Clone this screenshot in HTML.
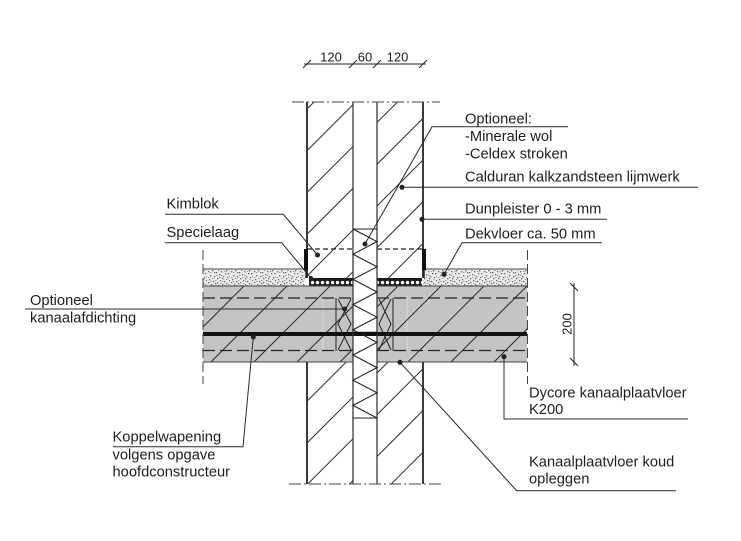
<!DOCTYPE html>
<html><head><meta charset="utf-8"><style>
html,body{margin:0;padding:0;background:#fff;}
svg{display:block;}
text{font-family:"Liberation Sans",Arial,sans-serif;fill:#1e1e1e;}
</style></head><body>
<svg width="741" height="541" viewBox="0 0 741 541" xmlns="http://www.w3.org/2000/svg">
<defs>
<pattern id="st" patternUnits="userSpaceOnUse" x="0" y="269" width="23" height="17">
<rect width="23" height="17" fill="#ececec"/>
<g fill="#6a6a6a">
<rect x="1" y="2" width="1.3" height="1.3"/><rect x="5" y="1" width="1.3" height="1.3"/><rect x="9" y="3" width="1.3" height="1.3"/><rect x="14" y="2" width="1.3" height="1.3"/><rect x="19" y="1" width="1.3" height="1.3"/><rect x="21" y="4" width="1.3" height="1.3"/><rect x="3" y="6" width="1.3" height="1.3"/><rect x="7" y="7" width="1.3" height="1.3"/><rect x="12" y="5" width="1.3" height="1.3"/><rect x="16" y="7" width="1.3" height="1.3"/><rect x="20" y="8" width="1.3" height="1.3"/><rect x="2" y="10" width="1.3" height="1.3"/><rect x="6" y="12" width="1.3" height="1.3"/><rect x="10" y="9" width="1.3" height="1.3"/><rect x="13" y="11" width="1.3" height="1.3"/><rect x="17" y="12" width="1.3" height="1.3"/><rect x="22" y="11" width="1.3" height="1.3"/><rect x="4" y="15" width="1.3" height="1.3"/><rect x="8" y="14" width="1.3" height="1.3"/><rect x="11" y="16" width="1.3" height="1.3"/><rect x="15" y="15" width="1.3" height="1.3"/><rect x="19" y="14" width="1.3" height="1.3"/><rect x="1" y="13" width="1.3" height="1.3"/><rect x="18" y="4" width="1.3" height="1.3"/><rect x="10" y="13" width="1.3" height="1.3"/><rect x="7" y="3" width="1.3" height="1.3"/><rect x="15" y="9" width="1.3" height="1.3"/>
</g>
<g fill="#9a9a9a">
<rect x="3" y="3" width="1.5" height="1"/><rect x="11" y="1" width="1.5" height="1"/><rect x="17" y="2" width="1.5" height="1"/><rect x="1" y="8" width="1.5" height="1"/><rect x="9" y="6" width="1.5" height="1"/><rect x="14" y="6" width="1.5" height="1"/><rect x="22" y="7" width="1" height="1"/><rect x="5" y="9" width="1.5" height="1"/><rect x="12" y="8" width="1.5" height="1"/><rect x="19" y="10" width="1.5" height="1"/><rect x="3" y="12" width="1.5" height="1"/><rect x="8" y="11" width="1.5" height="1"/><rect x="15" y="12" width="1.5" height="1"/><rect x="21" y="15" width="1.5" height="1"/><rect x="6" y="16" width="1.5" height="1"/><rect x="13" y="14" width="1.5" height="1"/><rect x="17" y="16" width="1.5" height="1"/>
</g>
</pattern>
<pattern id="mo" patternUnits="userSpaceOnUse" x="0" y="278" width="5" height="8">
<rect width="5" height="8" fill="#1a1a1a"/>
<circle cx="2.5" cy="4.6" r="1.7" fill="#fff"/>
</pattern>
<clipPath id="walls">
<rect x="307" y="102" width="46" height="176"/>
<rect x="377" y="102" width="46" height="176"/>
<rect x="307" y="362" width="46" height="122"/>
<rect x="377" y="362" width="46" height="122"/>
</clipPath>
<clipPath id="slabL"><rect x="203" y="286" width="150" height="76"/></clipPath>
<clipPath id="slabR"><rect x="377" y="286" width="150" height="76"/></clipPath>
</defs>
<rect width="741" height="541" fill="#fff"/>

<rect x="203" y="286" width="150" height="76" fill="#c4c4c4"/>
<rect x="377" y="286" width="150" height="76" fill="#c4c4c4"/>
<g stroke="#d8d8d8" stroke-width="1">
<line x1="323" y1="298" x2="323" y2="350"/>
<line x1="407" y1="298" x2="407" y2="350"/>
</g>

<rect x="203" y="269" width="102" height="17" fill="url(#st)"/>
<rect x="423" y="269" width="104" height="17" fill="url(#st)"/>
<rect x="309" y="278" width="44" height="8" fill="url(#mo)"/>
<rect x="377" y="278" width="45" height="8" fill="url(#mo)"/>

<g clip-path="url(#walls)" stroke="#333" stroke-width="1">
<line x1="-84" y1="500" x2="326" y2="90"/>
<line x1="-42.25" y1="500" x2="367.75" y2="90"/>
<line x1="-0.5" y1="500" x2="409.5" y2="90"/>
<line x1="41.25" y1="500" x2="451.25" y2="90"/>
<line x1="83" y1="500" x2="493" y2="90"/>
<line x1="124.75" y1="500" x2="534.75" y2="90"/>
<line x1="166.5" y1="500" x2="576.5" y2="90"/>
<line x1="208.25" y1="500" x2="618.25" y2="90"/>
<line x1="250" y1="500" x2="660" y2="90"/>
<line x1="291.75" y1="500" x2="701.75" y2="90"/>
<line x1="333.5" y1="500" x2="743.5" y2="90"/>
<line x1="375.25" y1="500" x2="785.25" y2="90"/>
</g>
<g clip-path="url(#slabL)" stroke="#2a2a2a" stroke-width="1">
<line x1="87" y1="400" x2="287" y2="200"/>
<line x1="130" y1="400" x2="330" y2="200"/>
<line x1="173" y1="400" x2="373" y2="200"/>
<line x1="216" y1="400" x2="416" y2="200"/>
<line x1="259" y1="400" x2="459" y2="200"/>
<line x1="302" y1="400" x2="502" y2="200"/>
</g>
<g clip-path="url(#slabR)" stroke="#2a2a2a" stroke-width="1">
<line x1="241" y1="400" x2="441" y2="200"/>
<line x1="284" y1="400" x2="484" y2="200"/>
<line x1="327" y1="400" x2="527" y2="200"/>
<line x1="370" y1="400" x2="570" y2="200"/>
<line x1="413" y1="400" x2="613" y2="200"/>
<line x1="456" y1="400" x2="656" y2="200"/>
</g>

<g stroke="#222" stroke-width="1.2" stroke-dasharray="12 5">
<line x1="203" y1="298" x2="353" y2="298"/>
<line x1="377" y1="298" x2="527" y2="298"/>
<line x1="203" y1="350.5" x2="353" y2="350.5"/>
<line x1="377" y1="350.5" x2="527" y2="350.5"/>
</g>
<g stroke="#222" stroke-width="1" fill="none">
<line x1="336" y1="298" x2="336" y2="351"/>
<line x1="393" y1="298" x2="393" y2="351"/>
<polyline points="338,299 351,324 338,350"/>
<polyline points="351,299 338,324 351,350"/>
<polyline points="379,299 391,324 379,350"/>
<polyline points="391,299 379,324 391,350"/>
</g>

<g stroke="#444" stroke-width="1.1">
<line x1="203" y1="269" x2="306" y2="269"/>
<line x1="423" y1="269" x2="527" y2="269"/>
<line x1="203" y1="286" x2="353" y2="286"/>
<line x1="377" y1="286" x2="527" y2="286"/>
<line x1="203" y1="362" x2="353" y2="362"/>
<line x1="377" y1="362" x2="527" y2="362"/>
</g>
<line x1="203" y1="334" x2="527" y2="334" stroke="#111" stroke-width="4"/>

<g stroke="#444" stroke-width="1" stroke-dasharray="10 4">
<line x1="203" y1="250" x2="203" y2="384"/>
<line x1="527.5" y1="250" x2="527.5" y2="384"/>
</g>

<g stroke="#3a3a3a">
<line x1="307" y1="102" x2="307" y2="278" stroke-width="2"/>
<line x1="307" y1="362" x2="307" y2="484" stroke-width="2"/>
<line x1="423" y1="102" x2="423" y2="278" stroke-width="2"/>
<line x1="423" y1="362" x2="423" y2="484" stroke-width="2"/>
<line x1="353" y1="102" x2="353" y2="484" stroke-width="1.3"/>
<line x1="377" y1="102" x2="377" y2="484" stroke-width="1.3"/>
</g>
<g stroke="#222" stroke-width="1.2" stroke-dasharray="5 3">
<line x1="307" y1="249" x2="353" y2="249"/>
<line x1="377" y1="249" x2="423" y2="249"/>
</g>
<rect x="304" y="249" width="4" height="21" fill="#111"/>
<rect x="422" y="249" width="4" height="21" fill="#111"/>
<line x1="306" y1="270" x2="306" y2="278" stroke="#222" stroke-width="1.5"/>
<line x1="424" y1="270" x2="424" y2="278" stroke="#222" stroke-width="1.5"/>

<g stroke="#222" stroke-width="1.1" fill="none">
<line x1="353" y1="229" x2="377" y2="229"/>
<line x1="353" y1="418" x2="377" y2="418"/>
<polyline points="353,229 377,241.6 353,254.2 377,266.8 353,279.4 377,292 353,304.6 377,317.2 353,329.8 377,342.4 353,355 377,367.6 353,380.2 377,392.8 353,405.4 377,418"/>
</g>
<line x1="353" y1="333" x2="377" y2="333" stroke="#111" stroke-width="2.5"/>

<g stroke="#444" stroke-width="1.1" stroke-dasharray="12 3 2 3">
<line x1="292" y1="102" x2="440" y2="102"/>
<line x1="289" y1="484" x2="441" y2="484"/>
</g>

<g stroke="#222" stroke-width="1">
<line x1="304" y1="64" x2="426" y2="64"/>
<line x1="303" y1="68" x2="311" y2="60"/>
<line x1="349" y1="68" x2="357" y2="60"/>
<line x1="373" y1="68" x2="381" y2="60"/>
<line x1="419" y1="68" x2="427" y2="60"/>
</g>
<text x="331" y="61.5" font-size="13" text-anchor="middle">120</text>
<text x="365" y="61.5" font-size="13" text-anchor="middle">60</text>
<text x="397.5" y="61.5" font-size="13" text-anchor="middle">120</text>

<g stroke="#222" stroke-width="1">
<line x1="574" y1="283" x2="574" y2="366"/>
<line x1="570" y1="283" x2="578" y2="291"/>
<line x1="570" y1="358" x2="578" y2="366"/>
</g>
<text transform="translate(571.5,324) rotate(-90)" font-size="13" text-anchor="middle">200</text>

<g stroke="#2a2a2a" stroke-width="1" fill="none">
<polyline points="568,126.7 432,126.7 365,244"/>
<polyline points="698,187.3 402,187.3"/>
<polyline points="607,219.3 422,219.3"/>
<polyline points="602,242.7 462,242.7 444,274.3"/>
<polyline points="165,214.3 283.3,214.3 317.5,255"/>
<polyline points="165,242.7 281.7,242.7 311,278"/>
<polyline points="25,309 344.7,309"/>
<polyline points="113,446.7 243,446.7 253.3,337"/>
<polyline points="688,419 504,419 504,356.7"/>
<polyline points="676,490.7 516.7,490.7 400,362.3"/>
</g>
<g fill="#222">
<circle cx="365" cy="244" r="2.5"/>
<circle cx="402" cy="187.3" r="2.5"/>
<circle cx="422" cy="219.3" r="2.5"/>
<circle cx="444" cy="274.3" r="2.5"/>
<circle cx="317.5" cy="255" r="2.5"/>
<circle cx="311" cy="278" r="2"/>
<circle cx="344.7" cy="309" r="2.5"/>
<circle cx="253.3" cy="337" r="2.5"/>
<circle cx="504" cy="356.7" r="2.5"/>
<circle cx="400" cy="362.3" r="2.5"/>
</g>

<g font-size="14.7">
<text x="465" y="123.5">Optioneel:</text>
<text x="465" y="141">-Minerale wol</text>
<text x="465" y="158.5">-Celdex stroken</text>
<text x="465" y="181.5">Calduran kalkzandsteen lijmwerk</text>
<text x="465" y="213.3">Dunpleister 0 - 3 mm</text>
<text x="465" y="238.3">Dekvloer ca. 50 mm</text>
<text x="166.5" y="208.3">Kimblok</text>
<text x="166.5" y="237">Specielaag</text>
<text x="30" y="305">Optioneel</text>
<text x="30" y="322.3">kanaalafdichting</text>
<text x="112.5" y="441.7">Koppelwapening</text>
<text x="112.5" y="459.3">volgens opgave</text>
<text x="112.5" y="476.7">hoofdconstructeur</text>
<text x="529" y="397.7">Dycore kanaalplaatvloer</text>
<text x="529" y="414">K200</text>
<text x="529" y="466.7">Kanaalplaatvloer koud</text>
<text x="529" y="483.3">opleggen</text>
</g>
</svg>
</body></html>
